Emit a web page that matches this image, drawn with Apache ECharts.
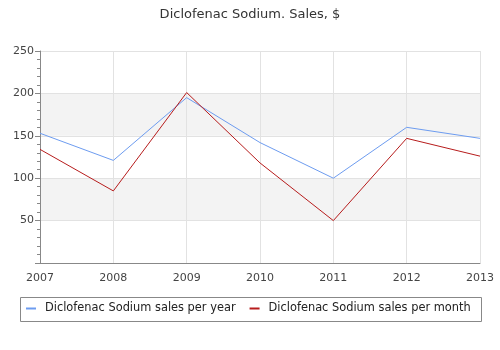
<!DOCTYPE html>
<html><head><meta charset="utf-8">
<script src="https://cdn.jsdelivr.net/npm/echarts@6/dist/echarts.min.js"></script>
<style>html,body{margin:0;padding:0;background:#fff}#c{width:500px;height:350px}</style>
</head><body><div id="c"></div>
<script>
const categories = ['2007','2008','2009','2010','2011','2012','2013'];
const perYear = [153, 121, 195, 142, 100, 160, 147];
const perMonth = [134, 85, 201, 118, 50, 147, 126];
const seriesNames = ['Diclofenac Sodium sales per year', 'Diclofenac Sodium sales per month'];
const titleText = 'Diclofenac Sodium. Sales, $';

const font = 'DejaVu Sans';
const chart = echarts.init(document.getElementById('c'), null, {renderer: 'canvas'});
chart.setOption({
  animation: false,
  textStyle: {fontFamily: font},
  title: {text: titleText, left: 'center', top: 3,
    textStyle: {fontFamily: font, fontSize: 13, fontWeight: 'normal', color: '#333'}},
  grid: {left: 40, right: 20, top: 51, bottom: 87},
  graphic: [{type: 'rect', shape: {x: 20.5, y: 297.5, width: 461, height: 24},
    style: {fill: 'none', stroke: '#888', lineWidth: 1}, silent: true}],
  legend: {
    left: 26, top: 303, itemGap: 14, itemWidth: 10, itemHeight: 2, icon: 'rect',
    padding: 0,
    textStyle: {fontFamily: font, fontSize: 11.4, color: '#222', padding: [0, 0, 0, 4]},
    data: seriesNames
  },
  xAxis: {
    type: 'category', data: categories, boundaryGap: false,
    axisLine: {lineStyle: {color: '#888'}},
    axisTick: {show: false},
    axisLabel: {color: '#444', fontSize: 11, margin: 10, fontFamily: font},
    splitLine: {show: true, lineStyle: {color: '#e2e2e2'}}
  },
  yAxis: {
    type: 'value', min: 0, max: 250, interval: 50,
    axisLine: {show: true, lineStyle: {color: '#888'}},
    axisTick: {show: true, length: 5, lineStyle: {color: '#888'}},
    minorTick: {show: true, splitNumber: 5, length: 3, lineStyle: {color: '#888'}},
    axisLabel: {color: '#444', fontSize: 11, margin: 6, fontFamily: font,
      formatter: v => v === 0 ? '' : String(v)},
    splitLine: {show: true, lineStyle: {color: '#e2e2e2'}},
    splitArea: {show: true, areaStyle: {color: ['#ffffff', '#f3f3f3']}}
  },
  series: [
    {name: seriesNames[0], type: 'line', data: perYear, symbol: 'none',
      lineStyle: {width: 1, color: '#6d9cf0'}, itemStyle: {color: '#6d9cf0'}},
    {name: seriesNames[1], type: 'line', data: perMonth, symbol: 'none',
      lineStyle: {width: 1, color: '#b71c1c'}, itemStyle: {color: '#b71c1c'}}
  ]
});
</script></body></html>
